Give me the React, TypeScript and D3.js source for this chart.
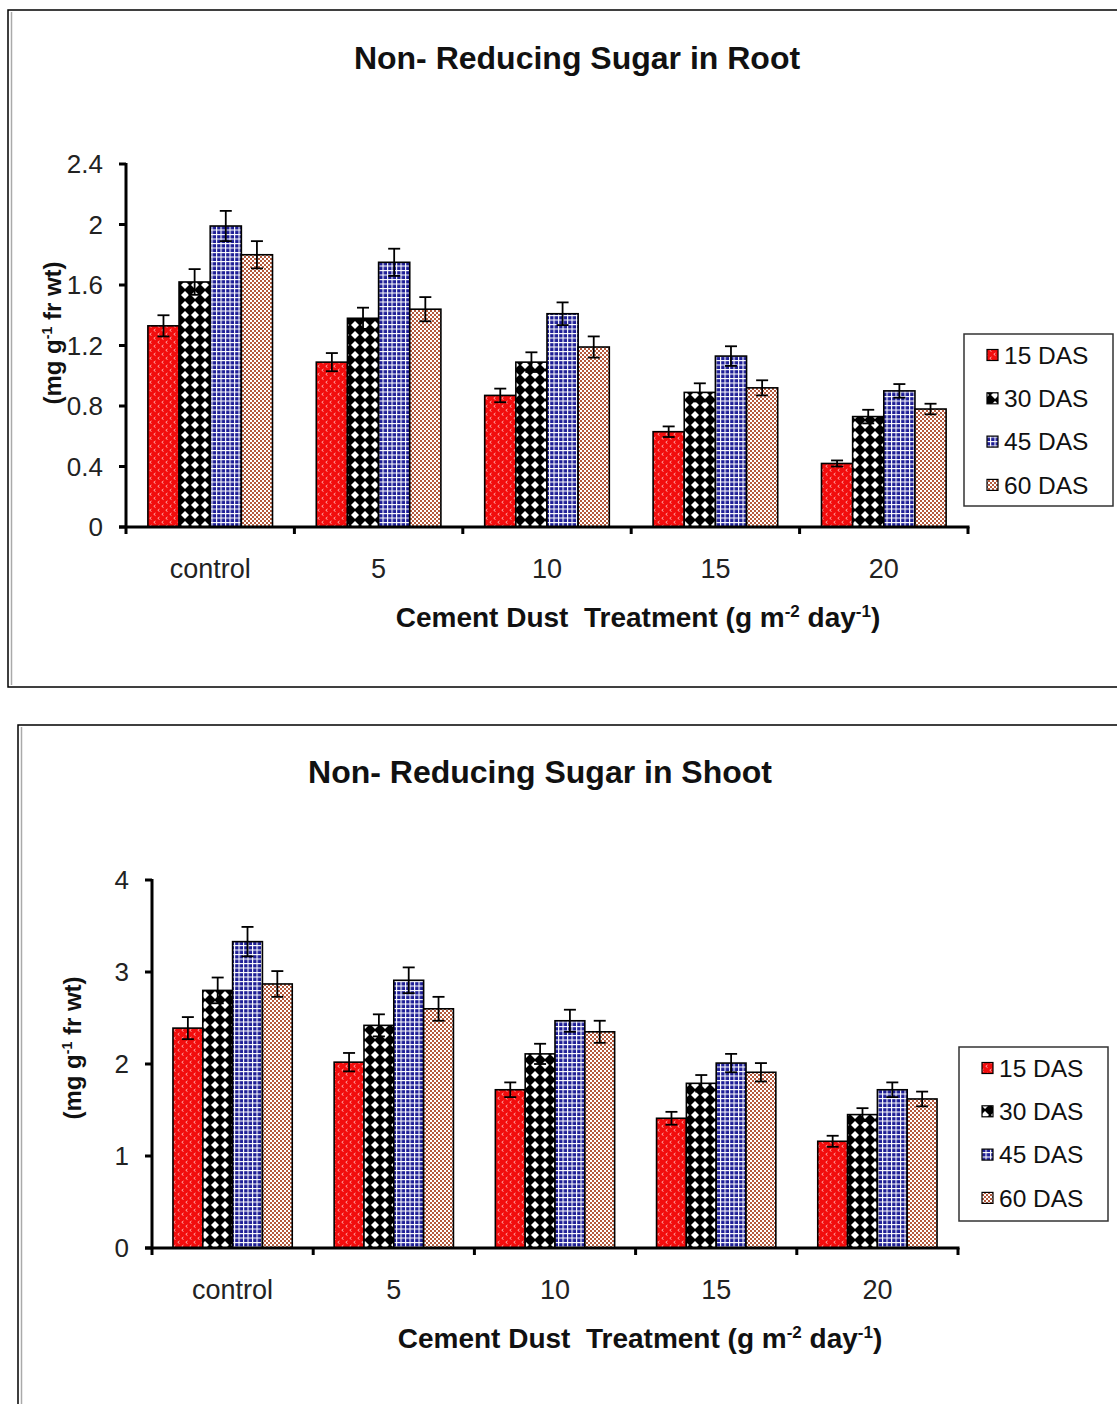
import React from "react";
import * as d3 from "d3";

// treatments (g m-2 day-1) and sampling days
const categories = ["control", "5", "10", "15", "20"];
const seriesNames = ["15 DAS", "30 DAS", "45 DAS", "60 DAS"];

// root, mg g-1 fr wt
const root15 = [1.33, 1.09, 0.87, 0.63, 0.42];
const root30 = [1.62, 1.38, 1.09, 0.89, 0.73];
const root45 = [1.99, 1.75, 1.41, 1.13, 0.9];
const root60 = [1.8, 1.44, 1.19, 0.92, 0.78];
const root15Err = [0.07, 0.06, 0.045, 0.035, 0.02];
const root30Err = [0.085, 0.07, 0.065, 0.06, 0.045];
const root45Err = [0.1, 0.09, 0.075, 0.065, 0.045];
const root60Err = [0.09, 0.08, 0.07, 0.05, 0.035];
const rootTicks = ["0", "0.4", "0.8", "1.2", "1.6", "2", "2.4"];

// shoot, mg g-1 fr wt
const shoot15 = [2.39, 2.02, 1.72, 1.41, 1.16];
const shoot30 = [2.8, 2.42, 2.11, 1.79, 1.45];
const shoot45 = [3.33, 2.91, 2.47, 2.01, 1.72];
const shoot60 = [2.87, 2.6, 2.35, 1.91, 1.62];
const shoot15Err = [0.12, 0.1, 0.08, 0.07, 0.06];
const shoot30Err = [0.14, 0.12, 0.11, 0.09, 0.07];
const shoot45Err = [0.16, 0.14, 0.12, 0.1, 0.08];
const shoot60Err = [0.14, 0.13, 0.12, 0.1, 0.08];
const shootTicks = ["0", "1", "2", "3", "4"];

const patternIds = ["p15", "p30", "p45", "p60"];
const FONT = "Liberation Sans, Arial, sans-serif";

function Patterns() {
  return (
    <defs>
      <pattern id="p15" width="8" height="8" patternUnits="userSpaceOnUse">
        <rect width="8" height="8" fill="#f20d0d" />
        <path d="M3.5 1 L1.8 2.3 L3.5 3.6" stroke="#ffd0d0" strokeWidth="0.8" fill="none" />
        <path d="M7.5 5 L5.8 6.3 L7.5 7.6" stroke="#ffd0d0" strokeWidth="0.8" fill="none" />
      </pattern>
      <pattern id="p30" width="10" height="10" patternUnits="userSpaceOnUse">
        <rect width="10" height="10" fill="#000" />
        <path d="M5 1 L9 5 L5 9 L1 5 Z" fill="#fff" />
      </pattern>
      <pattern id="p45" width="4.5" height="4.5" patternUnits="userSpaceOnUse">
        <rect width="4.5" height="4.5" fill="#1e1e96" />
        <rect width="4.5" height="1.1" fill="#fff" />
        <rect width="1.1" height="4.5" fill="#fff" />
      </pattern>
      <pattern id="p60" width="4" height="4" patternUnits="userSpaceOnUse">
        <rect width="4" height="4" fill="#fff" />
        <rect width="2" height="2" fill="#b4593c" />
        <rect x="2" y="2" width="2" height="2" fill="#b4593c" />
      </pattern>
    </defs>
  );
}

function Panel({ title, values, errors, ticks, frame, plot, titlePos, xTitleX, legend, yLabel, catY }) {
  const y = d3.scaleLinear().domain([0, +ticks[ticks.length - 1]]).range([plot.bottom, plot.top]);
  const x = d3.scaleBand().domain(categories).range([plot.left, plot.right]);
  const bw = x.bandwidth();
  const inner = d3.scaleBand().domain(seriesNames).range([bw * 0.13, bw * 0.87]);
  const w = inner.bandwidth();
  const boundaries = categories.map((c) => x(c)).concat([plot.right]);

  return (
    <g fontFamily={FONT}>
      <rect x={frame.x} y={frame.y} width={frame.w} height={frame.h} fill="#fff" stroke="#000" strokeWidth="1.5" />
      <line x1={frame.x + 3.5} x2={frame.x + 3.5} y1={frame.y + 2} y2={frame.y + frame.h - 2} stroke="#aaa" strokeWidth="1.5" />
      <text x={titlePos.x} y={titlePos.y} textAnchor="middle" fontSize="32" fontWeight="bold" fill="#111">
        {title}
      </text>

      {/* bars */}
      {seriesNames.map((s, si) =>
        categories.map((c, ci) => {
          const v = values[si][ci];
          const e = errors[si][ci];
          const bx = x(c) + inner(s);
          const cx = bx + w / 2;
          return (
            <g key={s + c}>
              <rect x={bx} y={y(v)} width={w} height={y(0) - y(v)} fill={`url(#${patternIds[si]})`} stroke="#000" strokeWidth="1.6" />
              <line x1={cx} x2={cx} y1={y(v + e)} y2={y(v - e)} stroke="#000" strokeWidth="1.8" />
              <line x1={cx - 6} x2={cx + 6} y1={y(v + e)} y2={y(v + e)} stroke="#000" strokeWidth="1.8" />
              <line x1={cx - 6} x2={cx + 6} y1={y(v - e)} y2={y(v - e)} stroke="#000" strokeWidth="1.8" />
            </g>
          );
        })
      )}

      {/* y axis */}
      <line x1={plot.left} x2={plot.left} y1={plot.top - 1} y2={plot.bottom + 1} stroke="#000" strokeWidth="3" />
      {ticks.map((t) => (
        <g key={t}>
          <line x1={plot.left - 7} x2={plot.left} y1={y(+t)} y2={y(+t)} stroke="#000" strokeWidth="3" />
          <text x={plot.left - 23} y={y(+t)} dy="0.36em" textAnchor="end" fontSize="26" fill="#222">
            {t}
          </text>
        </g>
      ))}

      {/* x axis */}
      <line x1={plot.left - 7} x2={plot.right + 1.5} y1={plot.bottom} y2={plot.bottom} stroke="#000" strokeWidth="3" />
      {boundaries.map((b, i) => (
        <line key={i} x1={b} x2={b} y1={plot.bottom} y2={plot.bottom + 7} stroke="#000" strokeWidth="3" />
      ))}
      {categories.map((c) => (
        <text key={c} x={x(c) + bw / 2} y={catY} textAnchor="middle" fontSize="27" fill="#222">
          {c}
        </text>
      ))}
      <text x={xTitleX} y={catY + 49} textAnchor="middle" fontSize="28" fontWeight="bold" fill="#111">
        Cement Dust{"\u00a0\u00a0"}Treatment (g m
        <tspan fontSize="17" dy="-10">-2</tspan>
        <tspan dy="10"> day</tspan>
        <tspan fontSize="17" dy="-10">-1</tspan>
        <tspan dy="10">)</tspan>
      </text>

      {/* y label */}
      <text transform={`translate(${yLabel.x},${yLabel.y}) rotate(-90)`} textAnchor="middle" dy="0.35em" fontSize="24" fontWeight="bold" fill="#111">
        (mg g
        <tspan fontSize="14" dy="-9">-1</tspan>
        <tspan dy="9"> fr wt)</tspan>
      </text>

      {/* legend */}
      <rect x={legend.x} y={legend.y} width={legend.w} height={legend.h} fill="#fff" stroke="#333" strokeWidth="1.5" />
      {seriesNames.map((s, si) => {
        const ly = legend.y + 21 + si * 43.3;
        return (
          <g key={s}>
            <rect x={legend.x + 23} y={ly - 5.5} width="11" height="11" fill={`url(#${patternIds[si]})`} stroke="#000" strokeWidth="1.2" />
            <text x={legend.x + 40} y={ly} dy="0.36em" fontSize="24.5" fill="#111">
              {s}
            </text>
          </g>
        );
      })}
    </g>
  );
}

export default function App() {
  return (
    <svg width={1117} height={1404} style={{ position: "absolute", left: 0, top: 0, background: "#fff" }}>
      <Patterns />
      <rect width={1117} height={1404} fill="#fff" />
      <Panel
        title="Non- Reducing Sugar in Root"
        values={[root15, root30, root45, root60]}
        errors={[root15Err, root30Err, root45Err, root60Err]}
        ticks={rootTicks}
        frame={{ x: 8, y: 10, w: 1130, h: 677 }}
        plot={{ left: 126, right: 968, top: 164, bottom: 527 }}
        titlePos={{ x: 577, y: 69 }}
        xTitleX={638}
        legend={{ x: 964, y: 334, w: 149, h: 172 }}
        yLabel={{ x: 53, y: 333 }}
        catY={578}
      />
      <Panel
        title="Non- Reducing Sugar in Shoot"
        values={[shoot15, shoot30, shoot45, shoot60]}
        errors={[shoot15Err, shoot30Err, shoot45Err, shoot60Err]}
        ticks={shootTicks}
        frame={{ x: 18, y: 725, w: 1120, h: 700 }}
        plot={{ left: 152, right: 958, top: 880, bottom: 1248 }}
        titlePos={{ x: 540, y: 783 }}
        xTitleX={640}
        legend={{ x: 959, y: 1047, w: 149, h: 174 }}
        yLabel={{ x: 73, y: 1048 }}
        catY={1299}
      />
    </svg>
  );
}
